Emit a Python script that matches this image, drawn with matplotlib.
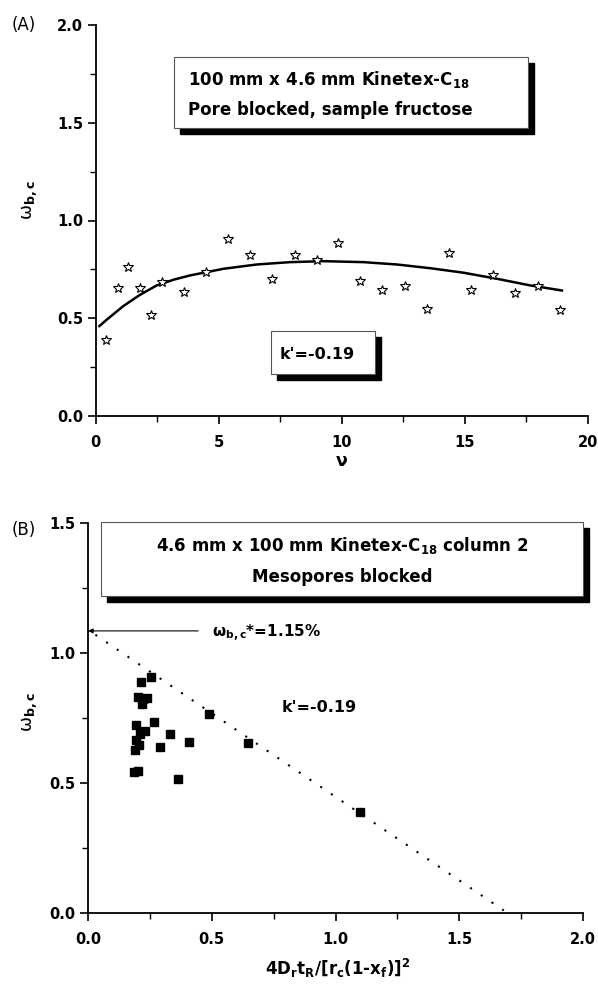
import matplotlib
matplotlib.use("Agg")
import matplotlib.pyplot as plt
from matplotlib.patches import Rectangle
from matplotlib.ticker import MultipleLocator, FormatStrFormatter

plt.rcParams['font.family'] = ['DejaVu Sans']
plt.rcParams['mathtext.fontset'] = 'dejavusans'

# ---------------- data: panel A ----------------
nu = [0.43, 0.90, 1.33, 1.78, 2.24, 2.69, 3.58, 4.48, 5.37, 6.28, 7.17, 8.08,
      8.98, 9.86, 10.75, 11.65, 12.55, 13.45, 14.36, 15.26, 16.14, 17.04, 17.95, 18.85]
omega_a = [0.39, 0.653, 0.764, 0.653, 0.515, 0.686, 0.636, 0.735, 0.907, 0.823, 0.701, 0.823,
           0.80, 0.885, 0.692, 0.645, 0.667, 0.545, 0.834, 0.646, 0.723, 0.629, 0.663, 0.544]
curve_nu = [0.15, 0.45, 1.12, 1.80, 2.48, 3.16, 3.83, 5.19, 6.54, 7.90, 9.25,
            10.88, 12.24, 13.59, 14.94, 16.30, 17.65, 18.94]
curve_omega = [0.46, 0.493, 0.562, 0.620, 0.668, 0.697, 0.719, 0.753, 0.775, 0.787, 0.792,
               0.787, 0.775, 0.756, 0.733, 0.702, 0.668, 0.642]

# ---------------- data: panel B ----------------
xb = [0.253, 0.213, 0.200, 0.224, 0.240, 0.220, 0.488, 0.268, 0.194, 0.232, 0.331,
      0.210, 0.194, 0.408, 0.646, 0.206, 0.291, 0.191, 0.186, 0.203, 0.362, 1.10]
omega_b = [0.909, 0.887, 0.832, 0.822, 0.826, 0.803, 0.767, 0.735, 0.723, 0.700, 0.688,
           0.688, 0.665, 0.656, 0.655, 0.646, 0.637, 0.627, 0.543, 0.545, 0.517, 0.39]
fit_x = [0.03, 1.68]
fit_y = [1.07, 0.01]
omega_star = 1.085

W, H = 598, 990
fig = plt.figure(figsize=(W / 100, H / 100), dpi=100)


def fx(px):
    return px / W


def fy(py):
    return 1 - py / H


def style_axes(ax):
    for s in ['top', 'right']:
        ax.spines[s].set_visible(False)
    for s in ['left', 'bottom']:
        ax.spines[s].set_linewidth(1.3)
    ax.tick_params(which='major', direction='out', length=6, width=1.2,
                   labelsize=10.5)
    ax.tick_params(which='minor', direction='out', length=4, width=1.0)
    ax.tick_params(axis='x', which='major', pad=8)
    ax.tick_params(axis='y', which='major', pad=3)
    for lab in ax.get_xticklabels() + ax.get_yticklabels():
        lab.set_fontweight('bold')


def shadow_box(x0, y0, x1, y1, off=6):
    fig.patches.append(Rectangle((fx(x0 + off), fy(y1 + off)), (x1 - x0) / W, (y1 - y0) / H,
                                 transform=fig.transFigure, facecolor='black',
                                 edgecolor='black', zorder=5))
    fig.patches.append(Rectangle((fx(x0), fy(y1)), (x1 - x0) / W, (y1 - y0) / H,
                                 transform=fig.transFigure, facecolor='white',
                                 edgecolor='#555555', linewidth=0.8, zorder=6))


ylab = 'ω$_{\\mathbf{b,c}}$'

# ---------------- Panel A ----------------
axA = fig.add_axes([fx(95.7), fy(416), (588 - 95.7) / W, (416 - 25) / H])
axA.plot(curve_nu, curve_omega, color='black', lw=1.8, zorder=3)
axA.plot(nu, omega_a, linestyle='none', marker='*', markersize=7.5,
         markerfacecolor='white', markeredgecolor='black', markeredgewidth=0.8, zorder=4)
axA.set_xlim(0, 20)
axA.set_ylim(0, 2.0)
axA.xaxis.set_major_locator(MultipleLocator(5))
axA.xaxis.set_minor_locator(MultipleLocator(2.5))
axA.yaxis.set_major_locator(MultipleLocator(0.5))
axA.yaxis.set_minor_locator(MultipleLocator(0.25))
axA.xaxis.set_major_formatter(FormatStrFormatter('%d'))
axA.yaxis.set_major_formatter(FormatStrFormatter('%.1f'))
style_axes(axA)

fig.text(fx(342), fy(461), 'ν', ha='center', va='center', fontsize=12.5,
         fontweight='bold')
fig.text(fx(30), fy(200), ylab, ha='center', va='center',
         rotation=90, fontsize=13)
fig.text(fx(12), fy(25), '(A)', ha='left', va='center', fontsize=12)

shadow_box(174, 57, 528, 128)
fig.text(fx(188), fy(79), r'100 mm x 4.6 mm Kinetex-C$_{\mathbf{18}}$', ha='left',
         va='center', fontsize=12, fontweight='bold', zorder=7)
fig.text(fx(188), fy(110), 'Pore blocked, sample fructose', ha='left',
         va='center', fontsize=12, fontweight='bold', zorder=7)

shadow_box(271, 331, 375, 374)
fig.text(fx(280), fy(354), "k'=-0.19", ha='left', va='center', fontsize=11.5,
         fontweight='bold', zorder=7)

# ---------------- Panel B ----------------
axB = fig.add_axes([fx(88), fy(913), (583 - 88) / W, (913 - 523) / H])
axB.plot(fit_x, fit_y, color='black', lw=1.5, linestyle=(0, (1, 5.2)), zorder=2)
axB.plot(xb, omega_b, linestyle='none', marker='s', markersize=5.5,
         color='black', zorder=4)
axB.set_xlim(0, 2.0)
axB.set_ylim(0, 1.5)
axB.xaxis.set_major_locator(MultipleLocator(0.5))
axB.xaxis.set_minor_locator(MultipleLocator(0.25))
axB.yaxis.set_major_locator(MultipleLocator(0.5))
axB.yaxis.set_minor_locator(MultipleLocator(0.25))
axB.xaxis.set_major_formatter(FormatStrFormatter('%.1f'))
axB.yaxis.set_major_formatter(FormatStrFormatter('%.1f'))
style_axes(axB)

axB.annotate('', xy=(0.0, omega_star), xytext=(0.445, omega_star),
             arrowprops=dict(arrowstyle='-|>', lw=0.8, color='black',
                             mutation_scale=7, shrinkA=0, shrinkB=0),
             annotation_clip=False)
axB.text(0.50, omega_star - 0.01, ylab + '*=1.15%', ha='left',
         va='center', fontsize=11, fontweight='bold')
axB.text(0.784, 0.79, "k'=-0.19", ha='left', va='center', fontsize=11.5,
         fontweight='bold')

fig.text(fx(338), fy(968),
         r'4D$_\mathbf{r}$t$_\mathbf{R}$/[r$_\mathbf{c}$(1-x$_\mathbf{f}$)]$^\mathbf{2}$',
         ha='center', va='center', fontsize=12, fontweight='bold')
fig.text(fx(30), fy(712), ylab, ha='center', va='center',
         rotation=90, fontsize=13)
fig.text(fx(12), fy(530), '(B)', ha='left', va='center', fontsize=12)

shadow_box(101, 522, 583, 596)
fig.text(fx(342), fy(546), r'4.6 mm x 100 mm Kinetex-C$_{\mathbf{18}}$ column 2',
         ha='center', va='center', fontsize=12, fontweight='bold', zorder=7)
fig.text(fx(342), fy(577), 'Mesopores blocked', ha='center', va='center',
         fontsize=12, fontweight='bold', zorder=7)

fig.savefig('out.png', dpi=100)
